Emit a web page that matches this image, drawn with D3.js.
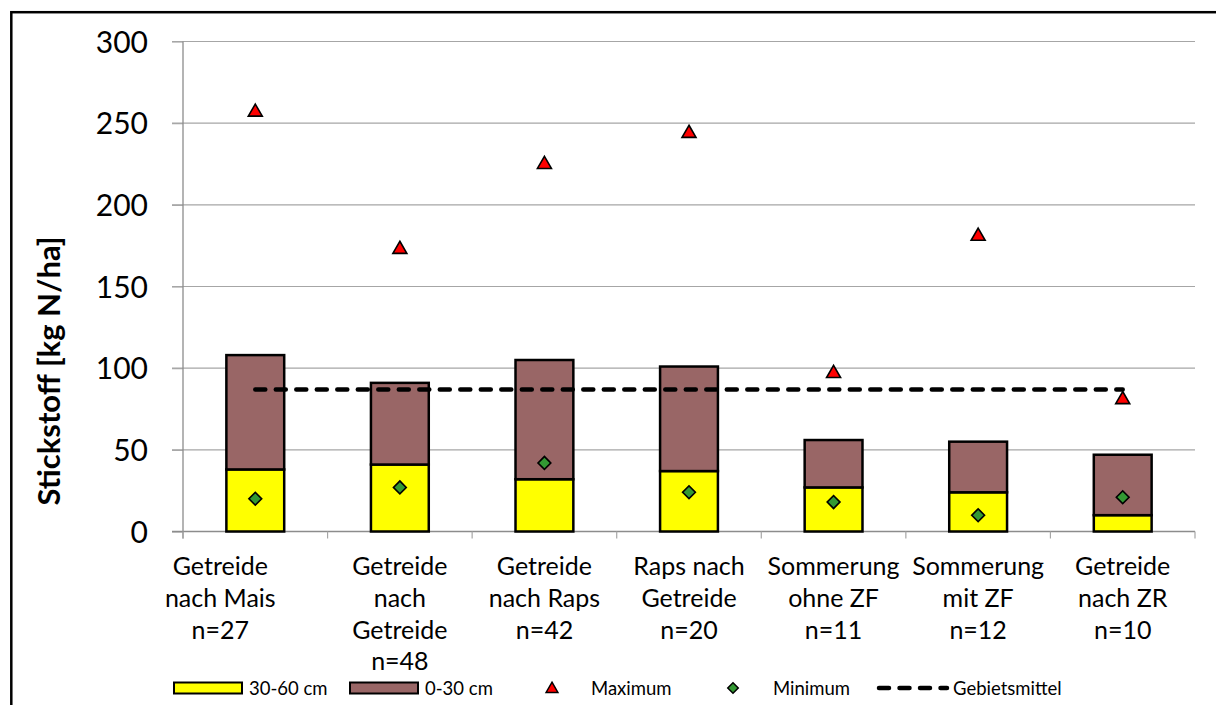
<!DOCTYPE html>
<html>
<head>
<meta charset="utf-8">
<script src="https://cdn.jsdelivr.net/npm/d3@7"></script>
<style>
  body { margin: 0; background: #fff; }
  svg { display: block; font-family: Lato, "Open Sans", sans-serif; }
</style>
</head>
<body>
<div class="chart"></div>
<script>
// Data
const categories = [
  ["Getreide", "nach Mais", "n=27"],
  ["Getreide", "nach", "Getreide", "n=48"],
  ["Getreide", "nach Raps", "n=42"],
  ["Raps nach", "Getreide", "n=20"],
  ["Sommerung", "ohne ZF", "n=11"],
  ["Sommerung", "mit ZF", "n=12"],
  ["Getreide", "nach ZR", "n=10"]
]
const depth30_60 = [38, 41, 32, 37, 27, 24, 10]
const depth0_30 = [70, 50, 73, 64, 29, 31, 37]
const maximum = [258, 174, 226, 245, 98, 182, 82]
const minimum = [20, 27, 42, 24, 18, 10, 21]
const gebietsmittel = 87
const yTicks = [0, 50, 100, 150, 200, 250, 300]
const legendLabels = ["30-60 cm", "0-30 cm", "Maximum", "Minimum", "Gebietsmittel"]

const draw_chart = () => {
    const W = 1216, H = 705
    const plot = {left: 183, right: 1195, top: 41.5, bottom: 531.5}

    const keys = categories.map((c, i) => i)

    // Scales
    const xScale = d3.scaleBand()
        .domain(keys)
        .range([plot.left, plot.right])
        .paddingInner(0.6)
        .paddingOuter(0.3)

    const yScale = d3.scaleLinear()
        .domain([0, 300])
        .range([plot.bottom, plot.top])

    const svg = d3.select(".chart").append("svg")
        .attr("width", W)
        .attr("height", H)

    // Outer frame (runs off the picture on right and bottom)
    svg.append("rect")
        .attr("x", 11.3)
        .attr("y", 12.2)
        .attr("width", W + 20)
        .attr("height", H + 20)
        .attr("fill", "none")
        .attr("stroke", "#000")
        .attr("stroke-width", 2.5)

    // Gridlines
    svg.append("g").selectAll("line")
        .data(yTicks.filter(d => d > 0))
        .enter()
        .append("line")
            .attr("x1", plot.left - 11)
            .attr("x2", plot.right)
            .attr("y1", d => yScale(d))
            .attr("y2", d => yScale(d))
            .attr("stroke", "#a6a6a6")
            .attr("stroke-width", 1.2)

    // Y axis
    const yAxis = d3.axisLeft(yScale)
        .tickValues(yTicks)
        .tickSize(11)
        .tickPadding(24)
    const yG = svg.append("g")
        .attr("transform", `translate(${plot.left},0)`)
        .call(yAxis)
    yG.select(".domain").remove()
    yG.selectAll(".tick line").attr("stroke", "#a6a6a6").attr("stroke-width", 1.2)
    yG.selectAll(".tick text")
        .attr("font-family", "Lato")
        .attr("font-size", 30)
        .attr("fill", "#000")
        .attr("dy", "0.36em")

    svg.append("line")
        .attr("x1", plot.left).attr("x2", plot.left)
        .attr("y1", plot.top).attr("y2", plot.bottom + 7)
        .attr("stroke", "#8c8c8c")
        .attr("stroke-width", 1.3)

    // X axis with ticks at category boundaries
    svg.append("line")
        .attr("x1", plot.left - 11).attr("x2", plot.right)
        .attr("y1", plot.bottom).attr("y2", plot.bottom)
        .attr("stroke", "#8c8c8c")
        .attr("stroke-width", 1.3)
    svg.append("g").selectAll("line")
        .data(d3.range(categories.length + 1))
        .enter()
        .append("line")
            .attr("x1", i => plot.left + i * xScale.step())
            .attr("x2", i => plot.left + i * xScale.step())
            .attr("y1", plot.bottom)
            .attr("y2", plot.bottom + 7)
            .attr("stroke", "#a6a6a6")
            .attr("stroke-width", 1.2)

    // Category labels
    const labels = svg.append("g").selectAll("text")
        .data(categories)
        .enter()
        .append("text")
            .attr("text-anchor", "middle")
            .attr("font-size", 25)
            .attr("fill", "#000")
    labels.selectAll("tspan")
        .data((d, i) => d.map(t => ({t, i})))
        .enter()
        .append("tspan")
            .attr("x", d => xScale(d.i) + xScale.bandwidth() / 2 - (d.i === 0 ? 35 : 0))
            .attr("y", (d, j) => 575 + j * 31.8)
            .text(d => d.t)

    // Stacked bars
    const stacks = keys.map(i => ({i, low: depth30_60[i], high: depth30_60[i] + depth0_30[i]}))

    svg.append("g").selectAll("rect")
        .data(stacks)
        .enter()
        .append("rect")
            .attr("x", d => xScale(d.i))
            .attr("y", d => yScale(d.low))
            .attr("width", xScale.bandwidth())
            .attr("height", d => yScale(0) - yScale(d.low))
            .attr("fill", "#ffff00")
            .attr("stroke", "#000")
            .attr("stroke-width", 2.5)

    svg.append("g").selectAll("rect")
        .data(stacks)
        .enter()
        .append("rect")
            .attr("x", d => xScale(d.i))
            .attr("y", d => yScale(d.high))
            .attr("width", xScale.bandwidth())
            .attr("height", d => yScale(d.low) - yScale(d.high))
            .attr("fill", "#996666")
            .attr("stroke", "#000")
            .attr("stroke-width", 2.5)

    // Gebietsmittel dashed line
    const cx = i => xScale(i) + xScale.bandwidth() / 2
    svg.append("line")
        .attr("x1", cx(0))
        .attr("x2", cx(categories.length - 1))
        .attr("y1", yScale(gebietsmittel))
        .attr("y2", yScale(gebietsmittel))
        .attr("stroke", "#000")
        .attr("stroke-width", 4.5)
        .attr("stroke-linecap", "round")
        .attr("stroke-dasharray", "10,10.5")

    // Markers
    const triSize = 85
    const triShift = Math.sqrt(triSize / (Math.sqrt(3) * 3)) / 2
    const tri = d3.symbol(d3.symbolTriangle, triSize)
    const dia = d3.symbol(d3.symbolSquare, 82)

    svg.append("g").selectAll("path")
        .data(maximum)
        .enter()
        .append("path")
            .attr("d", tri)
            .attr("transform", (d, i) => `translate(${cx(i)},${yScale(d) + triShift})`)
            .attr("fill", "#ff0000")
            .attr("stroke", "#000")
            .attr("stroke-width", 1.6)

    svg.append("g").selectAll("path")
        .data(minimum)
        .enter()
        .append("path")
            .attr("d", dia)
            .attr("transform", (d, i) => `translate(${cx(i)},${yScale(d)}) rotate(45)`)
            .attr("fill", "#339933")
            .attr("stroke", "#000")
            .attr("stroke-width", 1.6)

    // Y-axis title
    svg.append("text")
        .attr("transform", "translate(60,371) rotate(-90)")
        .attr("text-anchor", "middle")
        .attr("font-size", 31)
        .attr("font-weight", "bold")
        .attr("fill", "#000")
        .text("Stickstoff [kg N/ha]")

    // Legend
    const legend = svg.append("g").attr("class", "legend")
    const legY = 688
    legend.append("rect")
        .attr("x", 174).attr("y", legY - 5.5)
        .attr("width", 68).attr("height", 11)
        .attr("fill", "#ffff00").attr("stroke", "#000").attr("stroke-width", 2)
    legend.append("rect")
        .attr("x", 350).attr("y", legY - 5.5)
        .attr("width", 68).attr("height", 11)
        .attr("fill", "#996666").attr("stroke", "#000").attr("stroke-width", 2)
    legend.append("path")
        .attr("d", d3.symbol(d3.symbolTriangle, 60))
        .attr("transform", `translate(552,${legY + 1})`)
        .attr("fill", "#ff0000").attr("stroke", "#000").attr("stroke-width", 1.5)
    legend.append("path")
        .attr("d", d3.symbol(d3.symbolSquare, 55))
        .attr("transform", `translate(733,${legY}) rotate(45)`)
        .attr("fill", "#339933").attr("stroke", "#000").attr("stroke-width", 1.5)
    legend.append("line")
        .attr("x1", 879).attr("x2", 947)
        .attr("y1", legY).attr("y2", legY)
        .attr("stroke", "#000").attr("stroke-width", 4.5)
        .attr("stroke-linecap", "round")
        .attr("stroke-dasharray", "10,10.5")

    const legX = [249, 425, 591, 773, 953]
    legend.selectAll("text")
        .data(legendLabels)
        .enter()
        .append("text")
            .attr("x", (d, i) => legX[i])
            .attr("y", legY + 7)
            .attr("font-size", 18.5)
            .attr("fill", "#000")
            .text(d => d)
}

draw_chart()
</script>
</body>
</html>
